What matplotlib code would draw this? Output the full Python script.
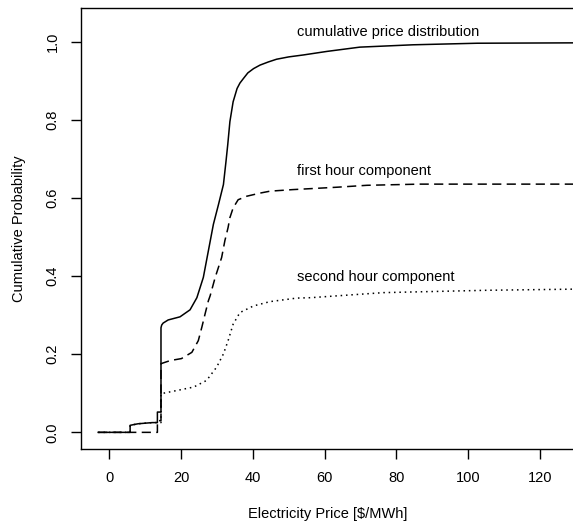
import matplotlib
matplotlib.use("Agg")
import matplotlib.pyplot as plt

# cumulative price distribution (solid)
total_x = [-3.1, 5.8, 5.8, 8.0, 12.0, 13.4, 13.4, 14.4, 14.4, 14.6, 15.0, 16.4, 19.7,
           22.5, 24.4, 26.2, 27.6, 29.0, 30.4, 31.8, 32.5, 33.0, 33.6, 34.5, 35.6,
           36.4, 37.4, 38.6, 40.2, 42.0, 44.3, 46.6, 50.0, 54.1, 60.6, 69.8, 84.6,
           102.5, 130.0]
total_y = [0.0, 0.0, 0.018, 0.022, 0.025, 0.025, 0.052, 0.052, 0.268, 0.275, 0.280,
           0.288, 0.296, 0.314, 0.345, 0.397, 0.465, 0.533, 0.583, 0.635, 0.693,
           0.737, 0.796, 0.847, 0.881, 0.895, 0.907, 0.921, 0.932, 0.941, 0.949,
           0.956, 0.962, 0.967, 0.976, 0.987, 0.993, 0.997, 0.998]

# first hour component (dashed)
first_x = [-3.1, 13.4, 13.4, 14.4, 14.4, 17.0, 20.1, 23.0, 24.8, 25.8, 26.7, 27.6,
           28.1, 29.5, 31.3, 32.2, 33.1, 33.6, 34.5, 35.9, 38.3, 42.0, 44.8, 51.2,
           63.3, 71.8, 86.5, 130.0]
first_y = [0.0, 0.0, 0.030, 0.030, 0.176, 0.184, 0.189, 0.205, 0.235, 0.270, 0.304,
           0.337, 0.350, 0.397, 0.448, 0.491, 0.525, 0.550, 0.575, 0.596, 0.605,
           0.613, 0.618, 0.622, 0.628, 0.633, 0.636, 0.636]

# second hour component (dotted)
second_x = [-3.1, 5.8, 5.8, 8.0, 12.0, 14.4, 14.4, 18.7, 23.5, 27.1, 29.9, 31.8,
            33.1, 34.5, 36.4, 40.2, 44.8, 52.2, 56.0, 76.4, 105.1, 130.0]
second_y = [0.0, 0.0, 0.018, 0.022, 0.025, 0.025, 0.099, 0.107, 0.116, 0.133, 0.167,
            0.201, 0.235, 0.277, 0.307, 0.324, 0.335, 0.344, 0.345, 0.358, 0.364,
            0.367]

labels = ["cumulative price distribution", "first hour component", "second hour component"]
label_pos = [(52.4, 1.027), (52.3, 0.669), (52.3, 0.398)]

plt.rcParams['font.family'] = ['Liberation Sans', 'DejaVu Sans']

fig = plt.figure(figsize=(5.73, 5.25), dpi=100)
ax = fig.add_axes([0.1419, 0.1448, 0.8581, 0.8405])

ax.plot(total_x, total_y, color='black', lw=1.1, linestyle='-')
ax.plot(first_x, first_y, color='black', lw=1.1, linestyle=(0, (6, 3.5)))
ax.plot(second_x, second_y, color='black', lw=1.1, linestyle=(0, (1, 2.5)))

for text, (tx, ty) in zip(labels, label_pos):
    ax.text(tx, ty, text, fontsize=10.5, ha='left', va='center')

ax.set_xlim(-7.8, 129.2)
ax.set_ylim(-0.0426, 1.088)
ax.set_xticks([0, 20, 40, 60, 80, 100, 120])
ax.set_yticks([0.0, 0.2, 0.4, 0.6, 0.8, 1.0])
ax.set_yticklabels(['0.0', '0.2', '0.4', '0.6', '0.8', '1.0'], rotation=90, va='center')

ax.spines['right'].set_visible(False)
for side in ['left', 'top', 'bottom']:
    ax.spines[side].set_linewidth(1.0)
ax.tick_params(axis='both', direction='out', length=7.5, width=1.0, labelsize=10.5)
ax.tick_params(axis='x', pad=8)
ax.tick_params(axis='y', pad=8)

ax.set_xlabel('Electricity Price [$/MWh]', fontsize=10.5)
ax.set_ylabel('Cumulative Probability', fontsize=10.5)
ax.xaxis.set_label_coords(0.502, -0.131)
ax.yaxis.set_label_coords(-0.113, 0.5)

fig.savefig('out.png', dpi=100)
